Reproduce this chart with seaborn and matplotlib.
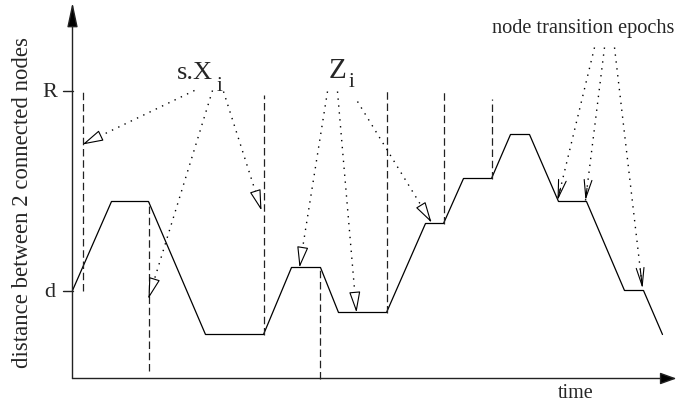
import numpy as np
import pandas as pd
import matplotlib
matplotlib.use("Agg")
import matplotlib.pyplot as plt
import seaborn as sns

# -----------------------------
# Data (time / distance units)
# -----------------------------
path_t = [0, 39, 76, 133, 191, 219, 248, 266, 314, 353, 371, 391, 419, 438, 457, 486, 514, 552, 571, 590]
path_d = [88, 177, 177, 44, 44, 111, 111, 66, 66, 155, 155, 200, 200, 244, 244, 177, 177, 88, 88, 44]

# dashed epoch markers
epoch_t = [10, 76, 191, 247, 314, 371, 419]
epoch_top = [288, 177, 284, 111, 288, 288, 280]
epoch_bot = [88, 8, 44, 0, 66, 155, 200]

# level ticks
level_names = ["R", "d"]
level_vals = [288, 88]

# annotation arrows: label -> (origin, tip)
sx_from = [(122, 288), (140, 288), (151, 287)]
sx_to = [(10, 234), (76, 80), (189, 168)]
z_from = [(255, 287), (265, 287), (285, 277)]
z_to = [(227, 111), (284, 66), (359, 156)]
node_from = [(522, 331), (532, 331), (542, 331)]
node_to = [(485, 178), (513, 178), (570, 90)]

sns.set_style("white")
plt.rcParams['font.family'] = ['Liberation Serif', 'DejaVu Serif']

fig = plt.figure(figsize=(6.77, 4.09), dpi=100)
ax = fig.add_axes([0, 0, 1, 1])
ax.set_xlim(-72.5, 604.5)
ax.set_ylim(-30.5, 378.5)
ax.axis('off')

# -----------------------------
# axes with arrows
# -----------------------------
ax.annotate('', xy=(0, 376), xytext=(0, 0),
            arrowprops=dict(arrowstyle='-|>,head_length=1.5,head_width=0.32', mutation_scale=10,
                            fc='black', ec='#222222', lw=1.0, shrinkA=0, shrinkB=0))
ax.annotate('', xy=(604, 0), xytext=(0, 0),
            arrowprops=dict(arrowstyle='-|>,head_length=1.0,head_width=0.36', mutation_scale=10,
                            fc='black', ec='#222222', lw=1.0, shrinkA=0, shrinkB=0))

for name, v in zip(level_names, level_vals):
    ax.plot([-9.5, 0], [v, v], color='#222222', lw=1.0)
    ax.text(-22.5, v - 2, name, ha='center', va='center', fontsize=16)

# -----------------------------
# distance path
# -----------------------------
df = pd.DataFrame({'time': path_t, 'distance': path_d})
sns.lineplot(data=df, x='time', y='distance', sort=False, estimator=None,
             color='black', lw=0.9, ax=ax)

# epoch markers
for t, top, bot in zip(epoch_t, epoch_top, epoch_bot):
    ax.plot([t, t], [bot, top], color='#222222', lw=0.9, linestyle=(0, (6, 3)))

# -----------------------------
# dotted annotation arrows
# -----------------------------
def dotted_arrow(p0, p1, style):
    ax.plot([p0[0], p1[0]], [p0[1], p1[1]], color='black', lw=1.0, linestyle=(0, (1, 4)))
    p0 = np.array(p0, float)
    p1 = np.array(p1, float)
    near = p1 - 0.08 * (p1 - p0)
    ax.annotate('', xy=tuple(p1), xytext=tuple(near),
                arrowprops=dict(arrowstyle=style, mutation_scale=10, fc='white', ec='black',
                                lw=0.8, shrinkA=0, shrinkB=0))

for a, b in zip(sx_from, sx_to):
    dotted_arrow(a, b, '-|>,head_length=1.3,head_width=0.35')
for a, b in zip(z_from, z_to):
    dotted_arrow(a, b, '-|>,head_length=1.3,head_width=0.35')
for a, b in zip(node_from, node_to):
    dotted_arrow(a, b, '->,head_length=1.3,head_width=0.28')

# -----------------------------
# labels
# -----------------------------
ax.text(104.5, 299.5, 's.X', ha='left', va='baseline', fontsize=19)
ax.text(144.5, 287.5, 'i', ha='left', va='baseline', fontsize=15)
ax.text(256.5, 300.5, 'Z', ha='left', va='baseline', fontsize=21)
ax.text(276.5, 291.5, 'i', ha='left', va='baseline', fontsize=15)
ax.text(419, 345.5, 'node transition epochs', ha='left', va='baseline', fontsize=14.6)
ax.text(503, -15, 'time', ha='center', va='center', fontsize=14.5)
ax.text(-49.5, 176, 'distance between 2 connected nodes', ha='center', va='center',
        rotation=90, fontsize=16.4)

plt.savefig('out.png', dpi=100)
